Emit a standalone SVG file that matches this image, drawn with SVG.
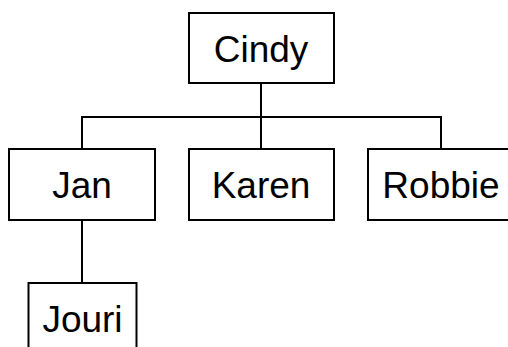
<svg xmlns="http://www.w3.org/2000/svg" width="508" height="347" viewBox="0 0 508 347">
  <style>
    .box { fill: #ffffff; stroke: #000000; stroke-width: 2; }
    .lbl { font-family: "Liberation Sans", Arial, sans-serif; font-size: 37px; fill: #000000; text-anchor: middle; }
    .wire { fill: none; stroke: #000000; stroke-width: 2; }
  </style>
  <rect width="508" height="347" fill="#ffffff"/>
  <g id="connectors">
    <path class="wire" d="M261 83 V149"/>
    <path class="wire" d="M82 149 V117 H441 V149"/>
    <path class="wire" d="M82 220 V283"/>
  </g>
  <g id="cindy">
    <rect class="box" x="189" y="13" width="145" height="70"/>
    <text class="lbl" x="261" y="61.5">Cindy</text>
  </g>
  <g id="jan">
    <rect class="box" x="9" y="149" width="146" height="71"/>
    <text class="lbl" x="82" y="198">Jan</text>
  </g>
  <g id="karen">
    <rect class="box" x="189" y="149" width="145" height="71"/>
    <text class="lbl" x="261" y="198">Karen</text>
  </g>
  <g id="robbie">
    <rect class="box" x="368" y="149" width="146" height="71"/>
    <text class="lbl" x="441" y="198">Robbie</text>
  </g>
  <g id="jouri">
    <rect class="box" x="28.5" y="283" width="108" height="80"/>
    <text class="lbl" x="82.5" y="331.5">Jouri</text>
  </g>
</svg>
